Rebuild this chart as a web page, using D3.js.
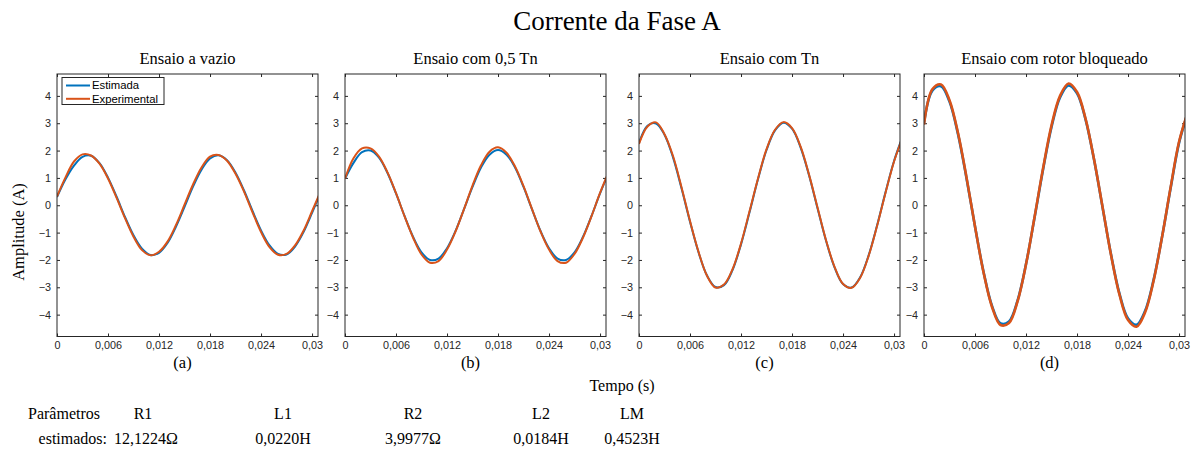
<!DOCTYPE html>
<html>
<head>
<meta charset="utf-8">
<script src="https://cdn.jsdelivr.net/npm/d3@7"></script>
<style>
  body { margin: 0; background: #fff; }
  #chart-container { width: 1203px; height: 450px; }
  .serif { font-family: 'Liberation Serif', 'Times New Roman', serif; fill: #000; }
  .axis text { font-family: 'Liberation Sans', Arial, sans-serif; font-size: 10.8px; fill: #262626; }
  .axis line { stroke: #262626; }
  .axis path { display: none; }
</style>
</head>
<body>
<div id="chart-container"></div>
<script>
// tempo (s) das amostras
const times = [0, 0.001, 0.002, 0.003, 0.004, 0.005, 0.006, 0.007, 0.008, 0.009, 0.010,
  0.011, 0.012, 0.013, 0.014, 0.015, 0.016, 0.017, 0.018, 0.019, 0.020,
  0.021, 0.022, 0.023, 0.024, 0.025, 0.026, 0.027, 0.028, 0.029, 0.030, 0.031]

// (a) ensaio a vazio
const estVazio = [0.30, 0.95, 1.45, 1.77, 1.81, 1.54, 1.01, 0.32, -0.43, -1.10, -1.59,
  -1.82, -1.74, -1.38, -0.78, -0.06, 0.68, 1.30, 1.71, 1.83, 1.65,
  1.19, 0.54, -0.21, -0.92, -1.47, -1.78, -1.80, -1.51, -0.98, -0.28, 0.47]
const expVazio = [0.32, 1.02, 1.60, 1.86, 1.82, 1.52, 0.98, 0.28, -0.47, -1.15, -1.64,
  -1.83, -1.70, -1.33, -0.72, 0.02, 0.76, 1.38, 1.78, 1.84, 1.63,
  1.15, 0.50, -0.26, -0.98, -1.53, -1.81, -1.78, -1.47, -0.93, -0.22, 0.50]

// (b) ensaio com 0,5 Tn
const estMeio = [0.97, 1.55, 1.94, 2.00, 1.74, 1.18, 0.43, -0.39, -1.15, -1.72, -2.00,
  -1.95, -1.57, -0.94, -0.14, 0.67, 1.38, 1.85, 2.02, 1.85, 1.38,
  0.67, -0.15, -0.94, -1.57, -1.95, -2.00, -1.72, -1.15, -0.39, 0.43, 1.18]
const expMeio = [0.97, 1.72, 2.08, 2.08, 1.78, 1.20, 0.44, -0.40, -1.18, -1.80, -2.10,
  -2.04, -1.62, -0.96, -0.14, 0.72, 1.46, 1.96, 2.12, 1.92, 1.42,
  0.70, -0.14, -0.96, -1.62, -2.04, -2.10, -1.78, -1.18, -0.40, 0.45, 1.20]

// (c) ensaio com Tn
const estNominal = [2.28, 2.91, 2.99, 2.58, 1.75, 0.62, -0.60, -1.72, -2.57, -2.99, -2.92,
  -2.37, -1.43, -0.26, 0.96, 2.02, 2.74, 3.02, 2.80, 2.12, 1.10,
  -0.11, -1.30, -2.27, -2.88, -3.01, -2.64, -1.84, -0.74, 0.48, 1.62, 2.50]
const expNominal = [2.24, 2.88, 3.03, 2.60, 1.80, 0.66, -0.58, -1.70, -2.58, -3.01, -2.90,
  -2.34, -1.40, -0.22, 0.98, 2.05, 2.76, 3.04, 2.82, 2.15, 1.12,
  -0.08, -1.28, -2.25, -2.88, -3.02, -2.66, -1.86, -0.76, 0.46, 1.60, 2.48]

// (d) ensaio com rotor bloqueado
const estBloqueado = [3.00, 4.20, 4.35, 3.79, 2.60, 0.99, -0.78, -2.43, -3.68, -4.32, -4.25,
  -3.49, -2.15, -0.46, 1.30, 2.86, 3.94, 4.38, 4.09, 3.14, 1.67,
  -0.07, -1.80, -3.24, -4.14, -4.37, -3.87, -2.74, -1.16, 0.61, 2.28, 3.35]
const expBloqueado = [2.95, 4.25, 4.42, 3.84, 2.64, 1.02, -0.78, -2.45, -3.72, -4.38, -4.31,
  -3.52, -2.16, -0.44, 1.34, 2.92, 4.00, 4.45, 4.14, 3.17, 1.68,
  -0.06, -1.82, -3.28, -4.20, -4.44, -3.92, -2.77, -1.16, 0.64, 2.32, 3.38]

const panelTitles = ['Ensaio a vazio', 'Ensaio com 0,5 Tn', 'Ensaio com Tn', 'Ensaio com rotor bloqueado']
const panelLetters = ['(a)', '(b)', '(c)', '(d)']
const xTicks = [0, 0.006, 0.012, 0.018, 0.024, 0.03]
const xTickLabels = ['0', '0,006', '0,012', '0,018', '0,024', '0,03']
const yTicks = [-4, -3, -2, -1, 0, 1, 2, 3, 4]
const seriesNames = ['Estimada', 'Experimental']
const paramNames = ['R1', 'L1', 'R2', 'L2', 'LM']
const paramValues = ['12,1224Ω', '0,0220H', '3,9977Ω', '0,0184H', '0,4523H']

const colors = ['#0072BD', '#D95319']

const panels = [
  { est: estVazio, exp: expVazio },
  { est: estMeio, exp: expMeio },
  { est: estNominal, exp: expNominal },
  { est: estBloqueado, exp: expBloqueado }
]

const panelLeft = [57, 345, 639, 924]
const panelTop = 74
const width = 261
const height = 262.5

const x = d3.scaleLinear().domain([0, 0.0307]).range([0, width])
const y = d3.scaleLinear().domain([-4.8, 4.8]).range([height, 0])

const svg = d3.select('#chart-container').append('svg')
  .attr('width', 1203)
  .attr('height', 450)

svg.append('text')
  .attr('class', 'serif')
  .attr('x', 617)
  .attr('y', 30)
  .attr('text-anchor', 'middle')
  .style('font-size', '27px')
  .text('Corrente da Fase A')

const curve = d3.line()
  .x((d, k) => x(times[k]))
  .y(d => y(d))
  .curve(d3.curveCatmullRom)

panels.forEach((p, i) => {
  const g = svg.append('g')
    .attr('transform', 'translate(' + panelLeft[i] + ',' + panelTop + ')')

  g.append('defs').append('clipPath')
    .attr('id', 'clip' + i)
    .append('rect')
    .attr('width', width)
    .attr('height', height)

  g.append('g')
    .attr('class', 'axis')
    .attr('transform', 'translate(0,' + height + ')')
    .call(d3.axisBottom(x).tickValues(xTicks)
      .tickFormat((d, k) => xTickLabels[k])
      .tickSizeInner(-3).tickSizeOuter(0).tickPadding(5))

  g.append('g')
    .attr('class', 'axis')
    .call(d3.axisTop(x).tickValues(xTicks).tickFormat('')
      .tickSizeInner(-3).tickSizeOuter(0))

  g.append('g')
    .attr('class', 'axis')
    .call(d3.axisLeft(y).tickValues(yTicks).tickFormat(d3.format('d'))
      .tickSizeInner(-3).tickSizeOuter(0).tickPadding(6))

  g.append('g')
    .attr('class', 'axis')
    .attr('transform', 'translate(' + width + ',0)')
    .call(d3.axisRight(y).tickValues(yTicks).tickFormat('')
      .tickSizeInner(-3).tickSizeOuter(0))

  const lineW = i === 3 ? 2.6 : 2

  const plot = g.append('g').attr('clip-path', 'url(#clip' + i + ')')

  plot.append('path')
    .datum(p.est)
    .attr('fill', 'none')
    .attr('stroke', colors[0])
    .attr('stroke-width', lineW)
    .attr('d', curve)

  plot.append('path')
    .datum(p.exp)
    .attr('fill', 'none')
    .attr('stroke', colors[1])
    .attr('stroke-width', lineW)
    .attr('stroke-linejoin', 'round')
    .attr('d', curve)

  // moldura
  g.append('rect')
    .attr('width', width)
    .attr('height', height)
    .attr('fill', 'none')
    .attr('stroke', '#262626')
    .attr('stroke-width', 1)

  g.append('text')
    .attr('class', 'serif')
    .attr('x', width / 2)
    .attr('y', -10)
    .attr('text-anchor', 'middle')
    .style('font-size', '16.5px')
    .text(panelTitles[i])

  g.append('text')
    .attr('class', 'serif')
    .attr('x', width / 2 - 5)
    .attr('y', height + 31)
    .attr('text-anchor', 'middle')
    .style('font-size', '16.5px')
    .text(panelLetters[i])

  // legenda so no primeiro
  if (i === 0) {
    const leg = g.append('g').attr('transform', 'translate(5,3.5)')
    leg.append('rect')
      .attr('width', 102)
      .attr('height', 27)
      .attr('fill', '#fff')
      .attr('stroke', '#262626')
      .attr('stroke-width', 1)
    seriesNames.forEach((name, k) => {
      leg.append('line')
        .attr('x1', 4).attr('x2', 28)
        .attr('y1', 8 + k * 13.3).attr('y2', 8 + k * 13.3)
        .attr('stroke', colors[k])
        .attr('stroke-width', 2)
      leg.append('text')
        .attr('x', 30)
        .attr('y', 8 + k * 13.3)
        .attr('dy', '0.35em')
        .style('font-family', "'Liberation Sans', Arial, sans-serif")
        .style('font-size', '11.3px')
        .text(name)
    })
  }
})

svg.append('text')
  .attr('class', 'serif')
  .attr('x', 622)
  .attr('y', 391)
  .attr('text-anchor', 'middle')
  .style('font-size', '16px')
  .text('Tempo (s)')

svg.append('text')
  .attr('class', 'serif')
  .attr('transform', 'translate(24,232) rotate(-90)')
  .attr('text-anchor', 'middle')
  .style('font-size', '16.5px')
  .text('Amplitude (A)')

// parametros estimados
const paramX = [146, 283, 413, 541, 632]

svg.append('text')
  .attr('class', 'serif')
  .attr('x', 100)
  .attr('y', 419)
  .attr('text-anchor', 'end')
  .style('font-size', '16px')
  .text('Parâmetros')

svg.append('text')
  .attr('class', 'serif')
  .attr('x', 107)
  .attr('y', 444)
  .attr('text-anchor', 'end')
  .style('font-size', '16px')
  .text('estimados:')

paramNames.forEach((name, k) => {
  svg.append('text')
    .attr('class', 'serif')
    .attr('x', paramX[k] - (k === 0 ? 3 : 0))
    .attr('y', 419)
    .attr('text-anchor', 'middle')
    .style('font-size', '16px')
    .text(name)
  svg.append('text')
    .attr('class', 'serif')
    .attr('x', paramX[k])
    .attr('y', 444)
    .attr('text-anchor', 'middle')
    .style('font-size', '16px')
    .text(paramValues[k])
})
</script>
</body>
</html>
